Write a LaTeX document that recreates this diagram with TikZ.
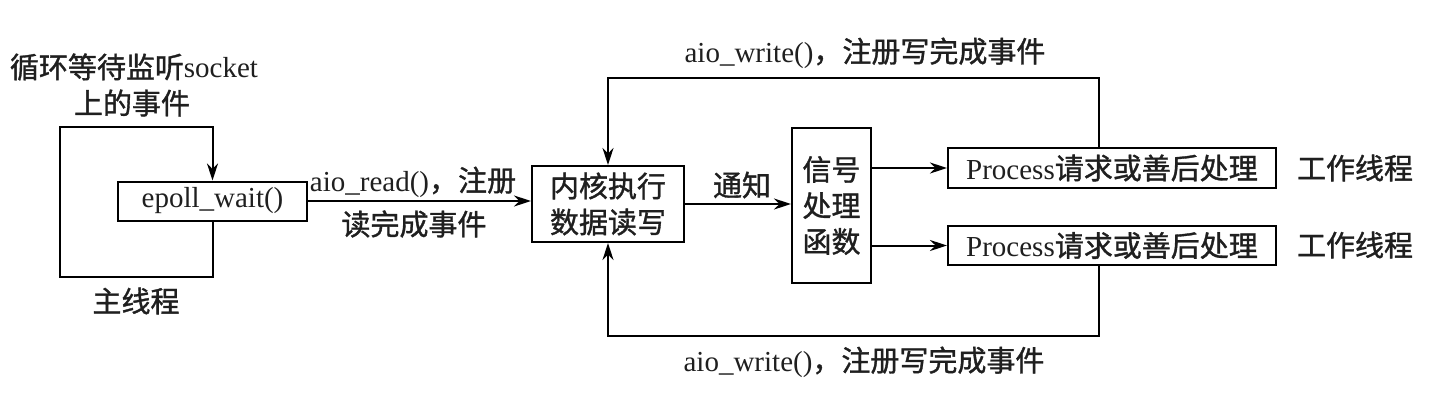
\documentclass[tikz,border=0pt]{standalone}
\usepackage{fontspec}
\setmainfont{Liberation Serif}
\newfontfamily\cjkf{Noto Sans CJK SC}[FakeBold=1.2]
\newcommand\zh[1]{{\cjkf #1}}
\usetikzlibrary{arrows.meta}
\begin{document}
\begin{tikzpicture}[x=1pt,y=-1pt,
  every node/.style={font=\fontsize{29}{36}\selectfont, inner sep=0pt, text=black!88},
  box/.style={draw, line width=2pt, align=center},
  lbl/.style={align=center},
  arr/.style={line width=2pt, -{Stealth[length=17pt,width=11pt]}},
  ln/.style={line width=2pt}]
\useasboundingbox (0,0) rectangle (1442,407);
% boxes
\node[box, minimum width=189pt, minimum height=39pt] (epoll) at (212.5,201) {epoll\_wait()};
\node[box, minimum width=152pt, minimum height=76pt] (kernel) at (608,204) {\zh{内核执行}\\\zh{数据读写}};
\node[box, minimum width=79pt, minimum height=155pt] (signal) at (831.5,205.5) {\zh{信号}\\\zh{处理}\\\zh{函数}};
\node[box, minimum width=328pt, minimum height=40pt] (proc1) at (1112,168) {Process\zh{请求或善后处理}};
\node[box, minimum width=328pt, minimum height=39pt] (proc2) at (1112,245.5) {Process\zh{请求或善后处理}};
% labels
\node[lbl] (t1) at (134,67) {\zh{循环等待监听}socket};
\node[lbl] (t2) at (132,103) {\zh{上的事件}};
\node[lbl] (t3) at (136,301) {\zh{主线程}};
\node[lbl] (t4) at (413,182) {aio\_read()\zh{，注册}};
\node[lbl] (t5) at (414,224) {\zh{读完成事件}};
\node[lbl] (t6) at (742,185) {\zh{通知}};
\node[lbl] (t7) at (865,53) {aio\_write()\zh{，注册写完成事件}};
\node[lbl] (t8) at (864,362) {aio\_write()\zh{，注册写完成事件}};
\node[lbl] (w1) at (1355,168) {\zh{工作线程}};
\node[lbl] (w2) at (1355,245) {\zh{工作线程}};
% coordinates
\coordinate (lbl) at (60,277);
\coordinate (ltl) at (60,127);
\coordinate (tr) at (1099,78);
\coordinate (br) at (1099,336);
% connectors
\draw[arr] (epoll.south) |- (lbl) -- (ltl) -| (epoll.north);
\draw[arr] (epoll.east) -- (epoll.east -| kernel.west);
\draw[arr] (kernel.east) -- (kernel.east -| signal.west);
\draw[arr] (signal.east |- proc1.west) -- (proc1.west);
\draw[arr] (signal.east |- proc2.west) -- (proc2.west);
\draw[arr] (proc1.north -| tr) -- (tr) -| (kernel.north);
\draw[arr] (proc2.south -| br) -- (br) -| (kernel.south);
\end{tikzpicture}
\end{document}
